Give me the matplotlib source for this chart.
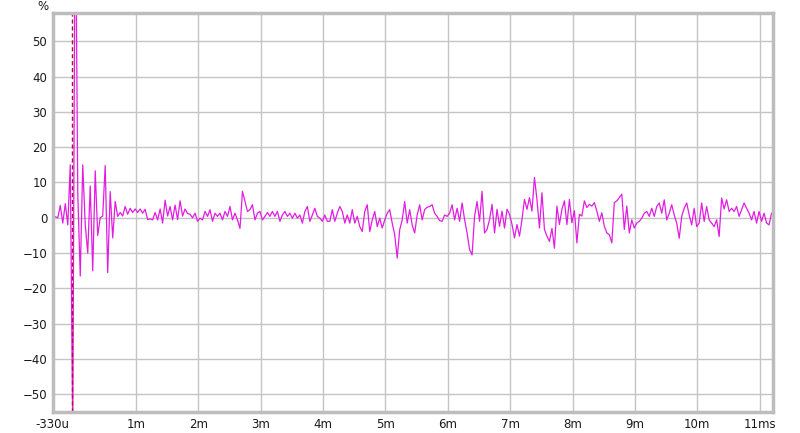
import numpy as np
import matplotlib
matplotlib.use('Agg')
import matplotlib.pyplot as plt

# impulse response, % of peak, sampled every 0.04 ms from -0.33 ms
t0 = -0.33
dt = 0.04
imp = [
    0, 0.3, 0, 3.5, -1.5, 4, -2, 15, -60, 100,
    7, -16.5, 15, -2, -10, 9, -15, 13.3, -5, 0,
    0.5, 14.8, -15.5, 7.4, -5.7, 4.6, 0.4, 1.5, 0.5, 3.2,
    1, 2.7, 1.5, 2.5, 1.5, 2.5, 1.3, 2.4, -0.5, -0.3,
    -0.6, 1.5, -0.6, 2.5, -1.5, 5, 0.5, 3.2, -0.6, 3.6,
    -0.5, 4.8, 0.5, 2.5, 1.2, 1, 0, 1.3, -1,
    -0.1, -0.6, 1.8, 0.4, 2.3, -1, 1.3, 0.4, 1.3, -0.6,
    1.8, 0.4, 3.2, -0.6, 1.3, -0.6, -3, 7.5, 4.6, 1.8,
    2.3, 3.7, -0.6, 1.3, 1.8, -0.6, 0.4, 1.5, 0.4, 1.8,
    0.4, 1.8, -1, 0.8, 1.8, 0.4, 1.3, -0.1, 1.3, -0.1,
    0.8, -1.5, 1.8, 3.2, -1, 0.8, 2.7, 0.4, -0.1, -1,
    0.8, -1,
    -1, 2.3, -1, 1.3, 3.2, 1.8, -1.5, 0.8, -1.5, 2.3,
    -1.5, 0.4, -2.5, -3.9, 1.8, 3.7, -3.9, -0.6, 1.8, -2.5,
    -0.1, -2.9, -0.6, 1.3, 2.3, -1.5, -4.8, -11.4, -3.4, -0.6,
    4.6, -1.5, 2.3, -2, -4.3, 0.8, 3.7, -0.6, 2.3, 3,
    3.2, 3.7, 1.3, 0.4, -0.8, -1, 0.8, 0.4, 1.3, 3.7,
    -0.6, 2.7, -1, 4.2, -0.5, -4.3, -9, -10.5, 0.4, 4.6,
    -1, 7.5, -4.3, -3.3, -0.5, 3.8, -4.3, 2.4, -2.4, 1.9,
    -2.9, 2.4, 1, -1.9, -5.7, -1.9, -5.2, -0.5, 5.2, 2.4,
    5.7, 1.9, 11.4, 5.2, -2.9, 7.1, -3.3, -5.2, -6.7, -3,
    -8.6, 3.3, -1.9, 2.4, 4.8, -1.9, 5.2, -1.4, 2, -7.1,
    1, 0.5, 4.8, 2.9, 3.8, 3.3, 4.3, 1.9, -1, 1.4,
    -2.4, -4.3, -4.8, -7.1, 4.3, 4.8, 5.7, 6.7, -3.3, 3.3,
    -4.3, -0.6, -2.9, -1.5, -1, -0.1, 1.3, 1.8, 0.4, 2.7,
    0.4, 3.2, 4.2, 1.3, 5.1, -0.6, 1.3, 3.7, 0.8, -1.5,
    -5.8, 0.4, 2.7, 4.2, 0.8, -2, 2.7, -2.5, -1.5, 4.2,
    -1, 3.2, -0.6, -1.5, -2.5, -0.6, -5.3, 5.6, 2.5, 5.1,
    1.8, 2.7, 1.8, 3.2, 0.4, 2.3, 4.2, 2.7, 1.3, -0.6,
    1.8, -1.5, 1.8, -1, 1.3, -1.5, -2, 1.3,
]
t = t0 + dt * np.arange(len(imp))
marker_t = -0.018

xticks = [-0.33, 1, 2, 3, 4, 5, 6, 7, 8, 9, 10, 11]
xlabels = ['-330u', '1m', '2m', '3m', '4m', '5m', '6m', '7m', '8m', '9m', '10m', '11ms']
yticks = [-50, -40, -30, -20, -10, 0, 10, 20, 30, 40, 50]

fig = plt.figure(figsize=(8, 4.33), dpi=100)
ax = fig.add_axes([0.066, 0.0485, 0.9, 0.9215])

ax.plot(t, imp, color='#e21de2', lw=0.9)
ax.axvline(marker_t, color='#b0103a', lw=1.0, ls=(0, (3, 2)))

ax.set_xlim(-0.33, 11.21)
ax.set_ylim(-55, 58)
ax.set_xticks(xticks)
ax.set_xticklabels(xlabels)
ax.set_yticks(yticks)
ax.grid(True, color='#c4c4c4', lw=1.0)
ax.set_axisbelow(True)
ax.tick_params(length=0, labelsize=8.5, colors='#1a1a1a', pad=4)
for s in ax.spines.values():
    s.set_color('#bdbdbd')
    s.set_linewidth(2.5)

fig.text(43 / 800, 1 - 6 / 433, '%', fontsize=8.5, color='#1a1a1a', ha='center', va='center')

plt.savefig('out.png', dpi=100)
plt.close()
